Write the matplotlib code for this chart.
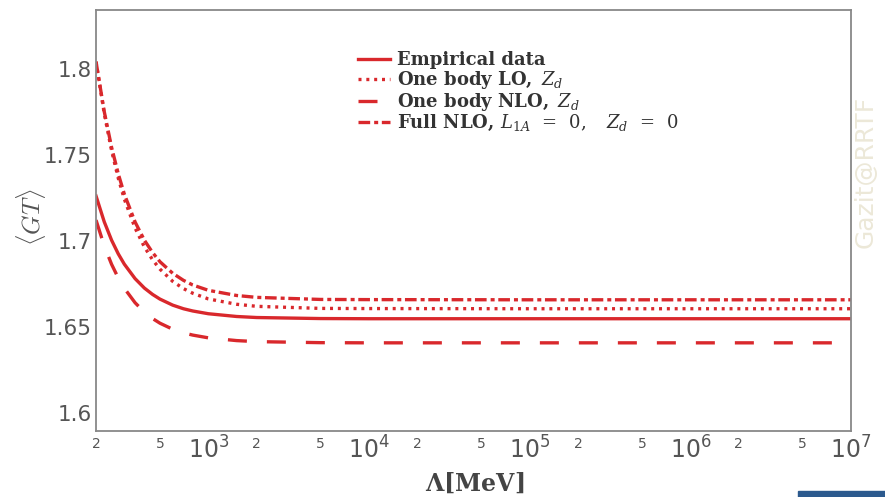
import math
import matplotlib
matplotlib.use("Agg")
import matplotlib.pyplot as plt
from matplotlib.ticker import LogLocator, FuncFormatter
from matplotlib.patches import Rectangle

# Cutoff values Lambda [MeV]
lam = [200, 225, 250, 275, 300, 350, 400, 450, 500, 600, 700, 800, 1000,
       1500, 2000, 5000, 1e4, 1e5, 1e6, 1e7]

empirical = [1.7260, 1.7110, 1.7003, 1.6924, 1.6864, 1.6780, 1.6725, 1.6688,
             1.6661, 1.6626, 1.6605, 1.6592, 1.6576, 1.6560, 1.6554, 1.6548,
             1.6547, 1.6547, 1.6547, 1.6547]
one_body_lo = [1.8040, 1.7739, 1.7523, 1.7364, 1.7242, 1.7074, 1.6964, 1.6889,
               1.6835, 1.6764, 1.6722, 1.6695, 1.6662, 1.6631, 1.6619, 1.6607,
               1.6606, 1.6605, 1.6605, 1.6605]
one_body_nlo = [1.7120, 1.6970, 1.6863, 1.6784, 1.6724, 1.6640, 1.6585, 1.6548,
                1.6521, 1.6486, 1.6465, 1.6452, 1.6436, 1.6420, 1.6414, 1.6408,
                1.6407, 1.6407, 1.6407, 1.6407]
full_nlo = [1.8040, 1.7750, 1.7542, 1.7389, 1.7271, 1.7109, 1.7003, 1.6931,
            1.6878, 1.6811, 1.6770, 1.6743, 1.6712, 1.6682, 1.6671, 1.6659,
            1.6658, 1.6657, 1.6657, 1.6657]

labels = ['Empirical data',
          r'One body LO, $\,Z_d$',
          r'One body NLO, $\,Z_d$',
          r'Full NLO, $L_{1A}\ \,=\ \,0,\ \ \ Z_d\ \,=\ \,0$']
yticks = [1.6, 1.65, 1.7, 1.75, 1.8]
ytick_labels = ['1.6', '1.65', '1.7', '1.75', '1.8']

red = '#d9282c'
grey = '#555555'

fig = plt.figure(figsize=(8.85, 4.97), dpi=100)
ax = fig.add_axes([0.1085, 0.1328, 0.8531, 0.8471])

lw = 2.4
ax.plot(lam, empirical, color=red, lw=lw, label=labels[0])
ax.plot(lam, one_body_lo, color=red, lw=lw, linestyle=(0, (0.9, 1.45)), label=labels[1])
ax.plot(lam, one_body_nlo, color=red, lw=lw, linestyle=(0, (5.7, 6.0)), label=labels[2])
ax.plot(lam, full_nlo, color=red, lw=lw, linestyle=(0, (3.5, 1.2, 1.2, 1.1)), label=labels[3])

ax.set_xscale('log')
ax.set_xlim(200, 1e7)
ax.set_ylim(1.5895, 1.834)

ax.set_yticks(yticks)
ax.set_yticklabels(ytick_labels)

ax.xaxis.set_major_locator(LogLocator(base=10, subs=(1.0,)))
ax.xaxis.set_minor_locator(LogLocator(base=10, subs=(2.0, 5.0)))

def major_fmt(x, pos):
    e = int(round(math.log10(x)))
    return r'$\mathregular{10^{%d}}$' % e

def minor_fmt(x, pos):
    m = x / 10 ** math.floor(math.log10(x) + 1e-9)
    return '%d' % round(m)

ax.xaxis.set_major_formatter(FuncFormatter(major_fmt))
ax.xaxis.set_minor_formatter(FuncFormatter(minor_fmt))

ax.tick_params(axis='x', which='major', length=0, labelsize=17, colors=grey, pad=4)
ax.tick_params(axis='x', which='minor', length=0, labelsize=10, colors=grey, pad=4)
ax.tick_params(axis='y', which='both', length=0, labelsize=15.5, colors=grey, pad=3)

for s in ax.spines.values():
    s.set_color('#888888')
    s.set_linewidth(1.3)

xl = ax.set_xlabel(r'$\mathbf{\Lambda[MeV]}$', fontsize=17, color='#444444',
                   math_fontfamily='dejavuserif')
ax.xaxis.set_label_coords(0.502, -0.1235)
xl.set_va('center')
yl = ax.set_ylabel(r'$\langle GT\rangle$', fontsize=18, color=grey,
                   math_fontfamily='cm')
ax.yaxis.set_label_coords(-0.086, 0.508)
yl.set_va('center')

leg = ax.legend(loc='upper left', bbox_to_anchor=(0.347, 0.903), frameon=False,
                prop=dict(family='DejaVu Serif', weight='bold', size=13,
                          math_fontfamily='dejavuserif'),
                handlelength=1.75, handletextpad=0.4, labelspacing=0.0,
                borderpad=0, borderaxespad=0)
for t in leg.get_texts():
    t.set_color('#333333')

fig.text(0.9785, 1 - 172 / 497, 'Gazit@RRTF', rotation=90, fontsize=18,
         color='#ece8d8', ha='center', va='center')

fig.patches.append(Rectangle((798 / 885, 0), 87 / 885, 6 / 497,
                             transform=fig.transFigure, color='#2c5a8e', zorder=5))

fig.savefig('out.png', dpi=100)
